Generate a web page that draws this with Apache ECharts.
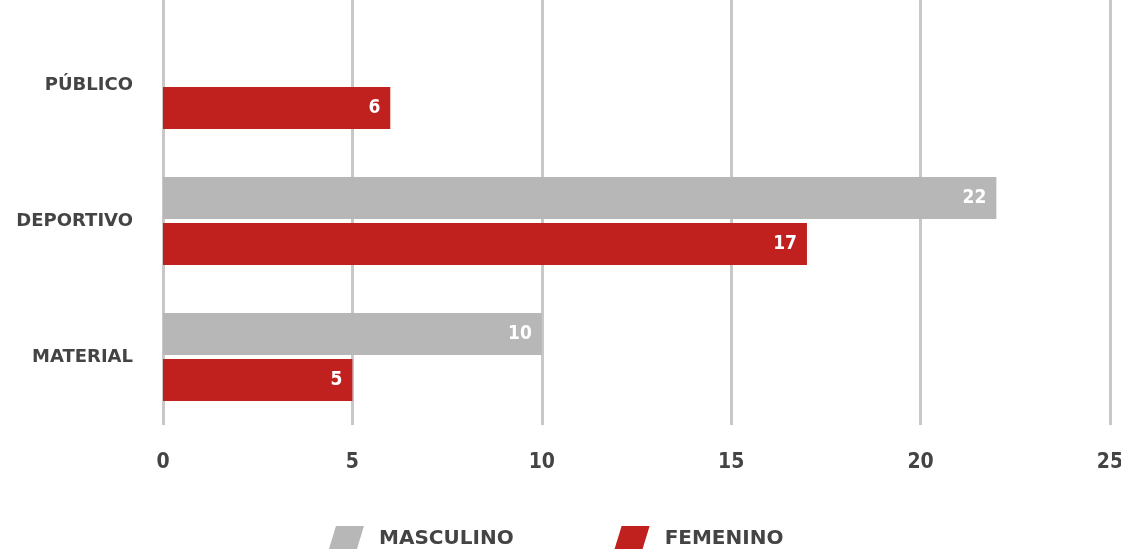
<!DOCTYPE html>
<html>
<head>
<meta charset="utf-8">
<script src="https://cdn.jsdelivr.net/npm/echarts@6/dist/echarts.min.js"></script>
<style>
  html, body { margin: 0; padding: 0; background: #fff; }
  #chart { width: 1121px; height: 549px; }
</style>
</head>
<body>
<div id="chart"></div>
<script>
// categories top to bottom
const categories = ['PÚBLICO', 'DEPORTIVO', 'MATERIAL']
const masculino = ['-', 22, 10]
const femenino = [6, 17, 5]
const xTicks = { min: 0, max: 25, interval: 5 }

const fontFam = '"DejaVu Sans Condensed", "DejaVu Sans", sans-serif'
const wideFam = '"DejaVu Sans", sans-serif'
const barLabel = {
  show: true,
  position: 'insideRight',
  color: '#fff',
  fontFamily: fontFam,
  fontWeight: 'bold',
  fontSize: 19,
  distance: 10
}

const chart = echarts.init(document.getElementById('chart'))
chart.setOption({
  animation: false,
  grid: [
    { left: 163, right: 11, top: 17, bottom: 124, outerBoundsMode: 'none' },
    // thin strip so the grid lines reach the top edge
    { left: 163, right: 11, top: 0, height: 17, outerBoundsMode: 'none' }
  ],
  legend: {
    bottom: -8,
    left: 323,
    itemWidth: 36,
    itemHeight: 26,
    itemGap: 100,
    icon: 'path://M8,0 L36,0 L28,26 L0,26 Z',
    textStyle: {
      color: '#444',
      fontFamily: wideFam,
      fontWeight: 'bold',
      fontSize: 20,
      padding: [0, 0, 0, 10]
    },
    data: ['MASCULINO', 'FEMENINO']
  },
  xAxis: [
    {
      gridIndex: 0,
      type: 'value',
      min: xTicks.min,
      max: xTicks.max,
      interval: xTicks.interval,
      axisLine: { show: false },
      axisTick: { show: false },
      splitLine: { lineStyle: { color: '#c8c8c8', width: 3 } },
      axisLabel: {
        color: '#444',
        fontFamily: fontFam,
        fontWeight: 'bold',
        fontSize: 21,
        margin: 27
      }
    },
    {
      gridIndex: 1,
      type: 'value',
      min: xTicks.min,
      max: xTicks.max,
      interval: xTicks.interval,
      axisLine: { show: false },
      axisTick: { show: false },
      axisLabel: { show: false },
      splitLine: { lineStyle: { color: '#c8c8c8', width: 3 } }
    }
  ],
  yAxis: [
    {
      gridIndex: 0,
      type: 'category',
      inverse: true,
      data: categories,
      axisLine: { show: false },
      axisTick: { show: false },
      axisLabel: {
        color: '#444',
        fontFamily: wideFam,
        fontWeight: 'bold',
        fontSize: 18,
        margin: 30
      }
    },
    {
      gridIndex: 1,
      type: 'category',
      data: [''],
      show: false
    }
  ],
  series: [
    {
      name: 'MASCULINO',
      type: 'bar',
      xAxisIndex: 0,
      yAxisIndex: 0,
      barWidth: 42,
      barGap: '10%',
      itemStyle: { color: '#b7b7b7' },
      label: barLabel,
      data: masculino
    },
    {
      name: 'FEMENINO',
      type: 'bar',
      xAxisIndex: 0,
      yAxisIndex: 0,
      barWidth: 42,
      barGap: '10%',
      itemStyle: { color: '#c0211f' },
      label: barLabel,
      data: femenino
    }
  ]
})
</script>
</body>
</html>
